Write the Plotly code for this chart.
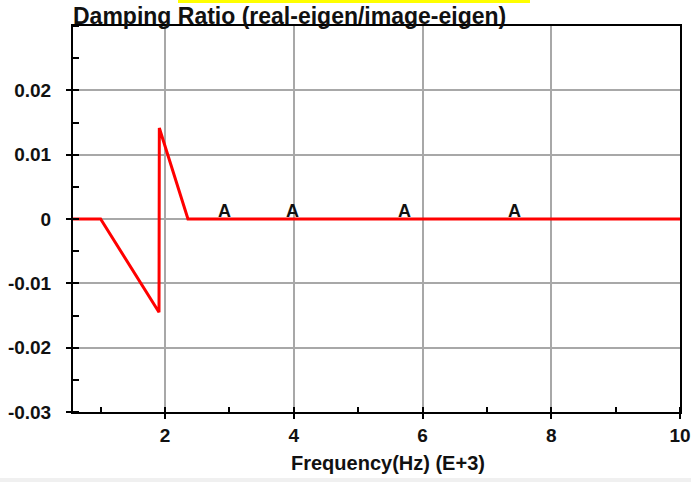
import plotly.graph_objects as go

# Damping ratio curve (frequency in kHz)
freq = [0.571, 1.0, 1.907, 1.912, 2.357, 10.0]
damping = [0.0, 0.0, -0.0145, 0.01415, 0.0, 0.0]

# Mode markers along the curve
mode_freq = [2.92, 3.98, 5.72, 7.43]
mode_damping = [0.0, 0.0, 0.0, 0.0]
mode_labels = ["A", "A", "A", "A"]

x_ticks = [2, 4, 6, 8, 10]
y_ticks = [-0.03, -0.02, -0.01, 0, 0.01, 0.02]
y_tick_text = ["-0.03", "-0.02", "-0.01", "0", "0.01", "0.02"]

font_family = "Liberation Sans, Arial, sans-serif"
ink = "#111111"

W, H = 691, 482
ML, MR, MT, MB = 73, 11, 26, 70
PW, PH = W - ML - MR, H - MT - MB


def px_x(px):
    # pixel column -> paper x
    return (px - ML) / PW


def px_y(py):
    # pixel row -> paper y
    return (H - MB - py) / PH


fig = go.Figure()
fig.add_trace(go.Scatter(
    x=freq, y=damping, mode="lines",
    line=dict(color="#ff0000", width=3),
    hoverinfo="skip", showlegend=False,
))

# mode letters sitting on the curve
annotations = [
    dict(x=fx, y=fy, xref="x", yref="y", text=f"<b>{lab}</b>", showarrow=False,
         yanchor="bottom", yshift=-4,
         font=dict(family=font_family, size=18, color=ink))
    for fx, fy, lab in zip(mode_freq, mode_damping, mode_labels)
]
# x-axis caption
annotations.append(dict(
    x=px_x(388), y=px_y(463), xref="paper", yref="paper",
    text="<b>Frequency(Hz) (E+3)</b>", showarrow=False,
    xanchor="center", yanchor="middle",
    font=dict(family=font_family, size=20, color=ink),
))

axis_common = dict(
    ticks="outside", ticklen=5, tickcolor="black", tickwidth=1.5,
    showline=True, linecolor="black", linewidth=2, mirror=True,
    showgrid=True, gridcolor="#a8a8a8", gridwidth=1.5,
    zeroline=False, automargin=False, ticklabeloverflow="allow",
)

fig.update_layout(
    width=W, height=H, autosize=False,
    margin=dict(l=ML, r=MR, t=MT, b=MB, autoexpand=False),
    paper_bgcolor="white", plot_bgcolor="white",
    font=dict(family=font_family, size=18, color=ink),
    title=dict(
        text="<b>Damping Ratio (real-eigen/image-eigen)</b>",
        x=73 / W, xanchor="left", xref="container",
        y=1 - 16 / H, yanchor="middle",
        font=dict(family=font_family, size=23, color=ink),
    ),
    xaxis=dict(
        range=[0.571, 10], tickvals=x_ticks,
        minor=dict(dtick=1, tick0=0, ticks="inside", ticklen=5, tickcolor="black",
                   showgrid=False),
        tickfont=dict(family=font_family, size=19, color=ink, weight="bold"),
        ticklabelstandoff=0,
        **axis_common,
    ),
    yaxis=dict(
        range=[-0.03, 0.03], tickvals=y_ticks, ticktext=y_tick_text,
        minor=dict(dtick=0.005, tick0=0, ticks="inside", ticklen=6, tickcolor="black",
                   showgrid=False),
        tickfont=dict(family=font_family, size=19, color=ink, weight="bold"),
        ticklabelstandoff=11,
        **axis_common,
    ),
    annotations=annotations,
    shapes=[
        # highlight strip above the title
        dict(type="rect", xref="paper", yref="paper",
             x0=px_x(178), x1=px_x(530), y0=px_y(3), y1=px_y(-1),
             fillcolor="#ffff00", line=dict(width=0), layer="below"),
        # footer band
        dict(type="rect", xref="paper", yref="paper",
             x0=px_x(-1), x1=px_x(W + 1), y0=px_y(H + 1), y1=px_y(478),
             fillcolor="#f0f0f0", line=dict(width=0), layer="below"),
    ],
)

fig.write_html("out.html")
